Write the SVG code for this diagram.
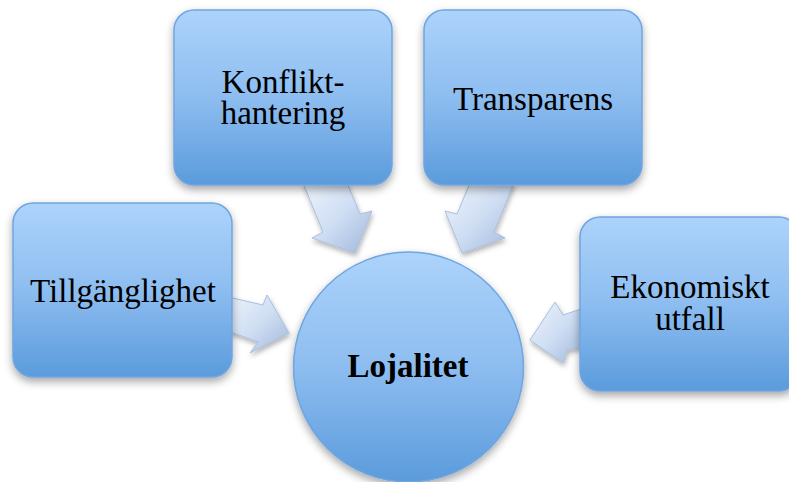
<svg xmlns="http://www.w3.org/2000/svg" width="789" height="482" viewBox="0 0 789 482">
<defs>
<linearGradient id="boxg" x1="0" y1="0" x2="0" y2="1">
<stop offset="0" stop-color="#acd3fb"/>
<stop offset="0.5" stop-color="#8dbdf0"/>
<stop offset="1" stop-color="#5b9bdc"/>
</linearGradient>
<linearGradient id="arrg" x1="0" y1="0" x2="1" y2="1">
<stop offset="0" stop-color="#eef4fc"/>
<stop offset="0.5" stop-color="#cfdef3"/>
<stop offset="1" stop-color="#a0b7da"/>
</linearGradient>
<filter id="sh" x="-20%" y="-20%" width="140%" height="150%">
<feDropShadow dx="0" dy="4" stdDeviation="4" flood-color="#000" flood-opacity="0.35"/>
</filter>
<filter id="ash" x="-30%" y="-30%" width="160%" height="160%">
<feDropShadow dx="1" dy="3" stdDeviation="2.5" flood-color="#000" flood-opacity="0.3"/>
</filter>
</defs>
<style>
.box{fill:url(#boxg);stroke:#6fa5e0;stroke-width:1.5;filter:url(#sh)}
.arr{fill:url(#arrg);stroke:#a9bfdf;stroke-width:1;filter:url(#ash)}
.t{font-family:"Liberation Serif","Times New Roman",serif;font-size:33px;fill:#000;text-anchor:middle}
.b{font-weight:bold;font-size:33px}
</style>
<g id="connectors">
<polygon class="arr" points="303,183 347,183 360,214 372,211 355,253 312,238 323,232"/>
<polygon class="arr" points="514,183 470,183 457,214 445,211 462,253 505,238 494,232"/>
<polygon class="arr" points="228,297 263,305 267,295 289,333 250,353 258,342 228,331"/>
<polygon class="arr" points="584,308 563,315 555,302 530,340 563,363 567,350 584,347"/>
</g>
<g id="konflikthantering">
<rect class="box" x="174" y="10" width="218" height="175" rx="20"/>
<text class="t" x="283" y="93">Konflikt-</text>
<text class="t" x="283" y="124">hantering</text>
</g>
<g id="transparens">
<rect class="box" x="424" y="10" width="218" height="175" rx="20"/>
<text class="t" x="533" y="110">Transparens</text>
</g>
<g id="tillganglighet">
<rect class="box" x="13" y="203" width="219" height="174" rx="20"/>
<text class="t" x="123" y="302">Tillgänglighet</text>
</g>
<g id="ekonomiskt">
<rect class="box" x="580" y="217" width="219" height="174" rx="20"/>
<text class="t" x="690" y="298">Ekonomiskt</text>
<text class="t" x="690" y="330">utfall</text>
</g>
<g id="lojalitet">
<circle class="box" cx="408.5" cy="367" r="115"/>
<text class="t b" x="408" y="377">Lojalitet</text>
</g>
</svg>
